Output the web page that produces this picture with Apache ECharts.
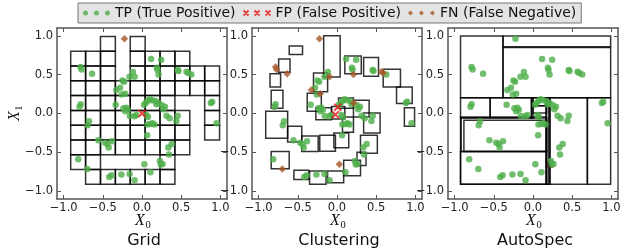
<!DOCTYPE html>
<html><head><meta charset="utf-8">
<script src="https://cdn.jsdelivr.net/npm/echarts@6/dist/echarts.min.js"></script>
<style>html,body{margin:0;padding:0;background:#fff}#c{width:624px;height:252px}</style>
</head><body><div id="c"></div>
<script>
// ---------- data ----------
const panelTitles = ['Grid', 'Clustering', 'AutoSpec'];
const tickValues = [-1, -0.5, 0, 0.5, 1];
const legendNames = ['TP (True Positive)', 'FP (False Positive)', 'FN (False Negative)'];

// all positive samples (X0, X1)
const positives = [
  [-0.224,0.961],
  [0.116,0.70],[0.245,0.692],
  [0.19,0.589],[0.198,0.563],[0.211,0.503],
  [0.456,0.559],[0.465,0.546],
  [0.568,0.537],[0.59,0.52],[0.629,0.503],
  [-0.784,0.597],[-0.771,0.567],[-0.637,0.512],
  [-0.116,0.533],[-0.159,0.473],[-0.095,0.473],
  [-0.25,0.426],[-0.228,0.409],
  [-0.28,0.332],[-0.327,0.302],
  [-0.258,0.246],[-0.215,0.255],
  [-0.784,0.118],[-0.797,0.088],
  [-0.336,0.113],
  [-0.237,0.066],[-0.215,0.028],[-0.181,0.049],[-0.2,0.075],
  [-0.155,-0.032],[-0.095,-0.036],[-0.073,-0.019],
  [0.026,0.113],[0.047,0.135],[0.073,0.165],[0.099,0.182],[0.129,0.169],[0.172,0.161],
  [0.185,0.118],[0.211,0.135],[0.25,0.109],[0.293,0.088],[0.271,0.054],
  [0.314,-0.028],[0.353,-0.062],[0.456,-0.028],[0.439,-0.096],
  [0.056,-0.02],[0.075,-0.045],
  [0.069,-0.143],[0.108,-0.135],[0.134,-0.126],[0.16,-0.14],
  [0.065,-0.281],
  [-0.676,-0.1],[-0.693,-0.152],
  [-0.556,-0.345],[-0.469,-0.375],[-0.439,-0.392],[-0.426,-0.439],[-0.383,-0.358],
  [0.379,-0.392],[0.336,-0.439],[0.345,-0.529],
  [-0.814,-0.589],[-0.698,-0.713],
  [0.03,-0.653],[0.108,-0.756],[0.228,-0.61],[0.24,-0.655],[0.262,-0.65],
  [-0.418,-0.816],[-0.388,-0.795],[-0.263,-0.786],[-0.159,-0.777],[-0.095,-0.859],
  [0.896,0.152],[0.879,0.135],[0.952,-0.126]
];

// false negatives per method (positives not covered)
const fnGrid = [[-0.224,0.961]];
const fnClustering = [
  [-0.224,0.961],[-0.784,0.597],[-0.771,0.567],[-0.637,0.512],[-0.095,0.473],
  [-0.327,0.302],[-0.215,0.255],[0.211,0.503],[0.568,0.537],[0.59,0.52],
  [0.211,0.135],[0.03,-0.653],[-0.698,-0.713]
];
const fnAutoSpec = [];

// false positives per method
const fpGrid = [[0.0,0.0]];
const fpClustering = [[0.01,0.08],[-0.02,-0.015]];
const fpAutoSpec = [[0.207,-0.653]];

// Grid method: cell edges and covered cells [col, row]
const gridEdges = [-0.91,-0.72,-0.53,-0.34,-0.15,0.04,0.23,0.42,0.61,0.80,0.99];
const gridCells = [
  [2,9],[4,9],
  [0,8],[1,8],[2,8],[4,8],[5,8],[6,8],[7,8],
  [0,7],[1,7],[2,7],[4,7],[5,7],[6,7],[7,7],[8,7],[9,7],
  [0,6],[1,6],[2,6],[3,6],[4,6],[5,6],[6,6],[7,6],[8,6],[9,6],
  [0,5],[1,5],[2,5],[3,5],[4,5],[5,5],[6,5],[9,5],
  [0,4],[1,4],[2,4],[3,4],[4,4],[5,4],[6,4],[7,4],[9,4],
  [0,3],[1,3],[2,3],[3,3],[4,3],[5,3],[6,3],[7,3],[9,3],
  [0,2],[1,2],[2,2],[3,2],[4,2],[5,2],[6,2],[7,2],
  [0,1],[1,1],[6,1],
  [1,0],[2,0],[3,0],[4,0],[5,0],[6,0]
];

// Clustering boxes [x0, y0, x1, y1]
const clusterBoxes = [
  [-0.17,1.0,0.04,0.47],[-0.61,0.87,-0.44,0.76],[-0.745,0.70,-0.60,0.53],
  [-0.855,0.51,-0.72,0.34],[-0.84,0.30,-0.69,0.066],[-0.91,0.03,-0.63,-0.32],
  [-0.63,-0.165,-0.45,-0.366],[-0.45,-0.29,-0.24,-0.49],[-0.22,-0.28,-0.02,-0.486],
  [-0.04,-0.25,0.15,-0.44],[-0.84,-0.49,-0.61,-0.71],[-0.55,-0.73,-0.36,-0.85],
  [-0.35,-0.74,-0.14,-0.91],[-0.12,-0.74,0.085,-0.89],[0.085,-0.60,0.30,-0.80],
  [0.255,-0.50,0.37,-0.67],[0.30,-0.28,0.515,-0.51],[0.34,0.006,0.55,-0.25],
  [0.07,-0.045,0.21,-0.24],[0.21,0.17,0.41,-0.045],[0.02,0.20,0.21,0.066],
  [-0.07,0.09,0.10,-0.07],[-0.27,0.075,-0.07,-0.08],[-0.38,0.26,-0.20,0.03],
  [-0.30,0.52,-0.12,0.28],[0.10,0.74,0.31,0.51],[0.34,0.72,0.53,0.48],
  [0.59,0.57,0.81,0.34],[0.76,0.34,0.96,0.13],[0.86,0.075,0.99,-0.165]
];

// AutoSpec boxes [x0, y0, x1, y1]
const autoSpecBoxes = [
  [-0.925,0.996,-0.383,0.204],[-0.383,0.996,0.991,0.859],[-0.383,0.848,0.991,0.204],
  [-0.925,0.204,-0.547,-0.054],[-0.547,0.204,-0.02,-0.054],[-0.02,0.204,0.0,-0.06],
  [0.0,0.204,0.173,0.10],[0.0,0.10,0.173,0.007],
  [0.173,0.204,0.216,-0.91],[0.165,0.204,0.2,-0.91],
  [0.216,0.204,0.694,-0.91],[0.694,0.204,0.991,-0.91],
  [-0.925,-0.045,0.173,-0.91],[-0.917,-0.057,0.173,-0.49],
  [-0.882,-0.088,0.173,-0.49],[-0.925,-0.49,0.173,-0.91]
];

// ---------- build ----------
const gridBoxes = gridCells.map(c => [gridEdges[c[0]], gridEdges[c[1]], gridEdges[c[0]+1], gridEdges[c[1]+1]]);
const boxesPerPanel = [gridBoxes, clusterBoxes, autoSpecBoxes];
const fnPerPanel = [fnGrid, fnClustering, fnAutoSpec];
const fpPerPanel = [fpGrid, fpClustering, fpAutoSpec];
const tpPerPanel = fnPerPanel.map(fn => positives.filter(p => !fn.some(f => Math.abs(f[0]-p[0]) < 1e-6 && Math.abs(f[1]-p[1]) < 1e-6)));

const GREEN = '#4daf4a', RED = '#e41a1c', BROWN = '#a65628';
const AX = '#555';
const XR = 1.085, YR = 1.1;
const lefts = [57, 252, 448];
const fmt = v => (v < 0 ? '\u2212' : '') + Math.abs(v).toFixed(1);

const grids = lefts.map(l => ({left: l, top: 28, width: 170, height: 171}));
function xAx(g, pos) {
  return {type: 'value', gridIndex: g, position: pos, min: -XR, max: XR,
    axisLine: {onZero: false, lineStyle: {color: AX, width: 1.5}},
    axisTick: {inside: true, length: 4, customValues: tickValues, lineStyle: {color: AX, width: 1}},
    axisLabel: {show: pos === 'bottom', customValues: tickValues, formatter: fmt, fontSize: 11.5,
      color: '#222', margin: 3, fontFamily: 'DejaVu Sans'},
    splitLine: {show: false}};
}
function yAx(g, pos) {
  return {type: 'value', gridIndex: g, position: pos, min: -YR, max: YR,
    axisLine: {onZero: false, lineStyle: {color: AX, width: 1.5}},
    axisTick: {inside: true, length: 4, customValues: tickValues, lineStyle: {color: AX, width: 1}},
    axisLabel: {show: pos === 'left', customValues: tickValues, formatter: fmt, fontSize: 11.5,
      color: '#222', margin: 4, fontFamily: 'DejaVu Sans'},
    splitLine: {show: false}};
}
const xAxes = [0,1,2].map(g => xAx(g, 'bottom')).concat([0,1,2].map(g => xAx(g, 'top')));
const yAxes = [0,1,2].map(g => yAx(g, 'left')).concat([0,1,2].map(g => yAx(g, 'right')));

function renderRect(params, api) {
  const p0 = api.coord([api.value(0), api.value(1)]);
  const p1 = api.coord([api.value(2), api.value(3)]);
  return {type: 'rect',
    shape: {x: Math.min(p0[0], p1[0]), y: Math.min(p0[1], p1[1]),
            width: Math.abs(p1[0]-p0[0]), height: Math.abs(p1[1]-p0[1])},
    style: {fill: 'none', stroke: 'rgba(0,0,0,0.8)', lineWidth: 1.5}};
}

const XPATH = 'path://M0,0L10,10M10,0L0,10';
const series = [];
[0,1,2].forEach(g => {
  series.push({type: 'custom', xAxisIndex: g, yAxisIndex: g, renderItem: renderRect,
    encode: {x: [0,2], y: [1,3]}, data: boxesPerPanel[g], z: 2, silent: true});
  series.push({type: 'scatter', name: legendNames[0], xAxisIndex: g, yAxisIndex: g,
    data: tpPerPanel[g], symbol: 'circle', symbolSize: 6.5, itemStyle: {color: GREEN}, z: 3, silent: true});
  series.push({type: 'scatter', name: legendNames[1], xAxisIndex: g, yAxisIndex: g,
    data: fpPerPanel[g], symbol: XPATH, symbolSize: 7,
    itemStyle: {color: 'transparent', borderColor: RED, borderWidth: 2}, z: g === 2 ? 1 : 5, silent: true});
  series.push({type: 'scatter', name: legendNames[2], xAxisIndex: g, yAxisIndex: g,
    data: fnPerPanel[g], symbol: 'diamond', symbolSize: 7.5, itemStyle: {color: BROWN}, z: 4, silent: true});
});

const centers = lefts.map(l => l + 85);
const graphic = [];
centers.forEach((cx, i) => {
  graphic.push({type: 'group', x: cx, y: 221, children: [
    {type: 'text', x: -2, y: 0, style: {text: 'X', font: 'italic 16px "Liberation Serif"', fill: '#111', align: 'center', verticalAlign: 'middle'}},
    {type: 'text', x: 6, y: 4, style: {text: '0', font: '10.5px "Liberation Serif"', fill: '#111', align: 'center', verticalAlign: 'middle'}}
  ]});
  graphic.push({type: 'text', x: cx + 2, y: 241, style: {text: panelTitles[i], font: '16px "DejaVu Sans"', fill: '#111', align: 'center', verticalAlign: 'middle'}});
});
graphic.push({type: 'group', x: 15, y: 114, rotation: Math.PI / 2, children: [
  {type: 'text', x: -2, y: 0, style: {text: 'X', font: 'italic 16px "Liberation Serif"', fill: '#111', align: 'center', verticalAlign: 'middle'}},
  {type: 'text', x: 6, y: 4, style: {text: '1', font: '10.5px "Liberation Serif"', fill: '#111', align: 'center', verticalAlign: 'middle'}}
]});

const option = {
  animation: false,
  grid: grids,
  xAxis: xAxes,
  yAxis: yAxes,
  series: series,
  graphic: graphic,
  legend: {
    left: 78, top: 3, padding: [3, 5], itemGap: 7, itemWidth: 27, itemHeight: 5,
    backgroundColor: '#e4e4e4', borderColor: '#777', borderWidth: 1, borderRadius: 0,
    selectedMode: false,
    textStyle: {fontSize: 14, color: '#111', fontFamily: 'DejaVu Sans'},
    data: [
      {name: legendNames[0], icon: 'path://M0,2.5A2.5,2.5,0,1,0,5,2.5A2.5,2.5,0,1,0,0,2.5ZM11,2.5A2.5,2.5,0,1,0,16,2.5A2.5,2.5,0,1,0,11,2.5ZM22,2.5A2.5,2.5,0,1,0,27,2.5A2.5,2.5,0,1,0,22,2.5Z',
       itemStyle: {color: GREEN, borderWidth: 0}},
      {name: legendNames[1], icon: 'path://M0,0L5,5M5,0L0,5M11,0L16,5M16,0L11,5M22,0L27,5M27,0L22,5',
       itemStyle: {color: 'transparent', borderColor: RED, borderWidth: 2}},
      {name: legendNames[2], icon: 'path://M2.5,0L5,2.5L2.5,5L0,2.5ZM13.5,0L16,2.5L13.5,5L11,2.5ZM24.5,0L27,2.5L24.5,5L22,2.5Z',
       itemStyle: {color: BROWN, borderWidth: 0}}
    ]
  }
};
const chart = echarts.init(document.getElementById('c'), null, {renderer: 'canvas'});
chart.setOption(option);
</script></body></html>
